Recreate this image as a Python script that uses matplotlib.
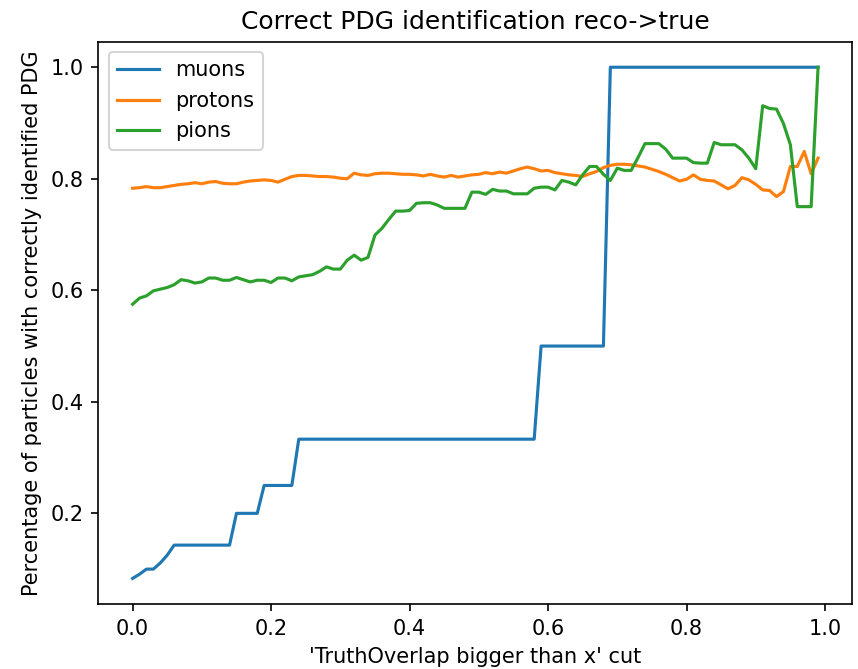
import numpy as np
import matplotlib
matplotlib.use("Agg")
import matplotlib.pyplot as plt

# cut values on TruthOverlap
cuts = np.round(np.arange(0, 1.0, 0.01), 2)

muons = [
    0.0833, 0.0909, 0.100, 0.100, 0.111, 0.125, 0.143, 0.143, 0.143, 0.143,
    0.143, 0.143, 0.143, 0.143, 0.143, 0.200, 0.200, 0.200, 0.200, 0.250,
    0.250, 0.250, 0.250, 0.250, 0.333, 0.333, 0.333, 0.333, 0.333, 0.333,
    0.333, 0.333, 0.333, 0.333, 0.333, 0.333, 0.333, 0.333, 0.333, 0.333,
    0.333, 0.333, 0.333, 0.333, 0.333, 0.333, 0.333, 0.333, 0.333, 0.333,
    0.333, 0.333, 0.333, 0.333, 0.333, 0.333, 0.333, 0.333, 0.333, 0.500,
    0.500, 0.500, 0.500, 0.500, 0.500, 0.500, 0.500, 0.500, 0.500, 1.000,
    1.000, 1.000, 1.000, 1.000, 1.000, 1.000, 1.000, 1.000, 1.000, 1.000,
    1.000, 1.000, 1.000, 1.000, 1.000, 1.000, 1.000, 1.000, 1.000, 1.000,
    1.000, 1.000, 1.000, 1.000, 1.000, 1.000, 1.000, 1.000, 1.000, 1.000,
]

protons = [
    0.783, 0.784, 0.786, 0.784, 0.784, 0.786, 0.788, 0.790, 0.791, 0.793,
    0.791, 0.794, 0.795, 0.792, 0.791, 0.791, 0.794, 0.796, 0.797, 0.798,
    0.797, 0.794, 0.799, 0.804, 0.806, 0.806, 0.805, 0.804, 0.804, 0.803,
    0.801, 0.800, 0.810, 0.807, 0.806, 0.809, 0.810, 0.810, 0.809, 0.808,
    0.808, 0.807, 0.805, 0.808, 0.805, 0.803, 0.806, 0.803, 0.805, 0.807,
    0.808, 0.811, 0.809, 0.812, 0.810, 0.814, 0.818, 0.821, 0.818, 0.814,
    0.815, 0.811, 0.809, 0.807, 0.806, 0.804, 0.809, 0.813, 0.820, 0.824,
    0.826, 0.826, 0.825, 0.823, 0.821, 0.817, 0.813, 0.808, 0.802, 0.796,
    0.799, 0.807, 0.799, 0.797, 0.796, 0.789, 0.782, 0.788, 0.802, 0.798,
    0.790, 0.780, 0.779, 0.768, 0.777, 0.822, 0.822, 0.849, 0.809, 0.837,
]

pions = [
    0.575, 0.586, 0.590, 0.599, 0.602, 0.605, 0.610, 0.619, 0.617, 0.613,
    0.615, 0.622, 0.622, 0.618, 0.618, 0.623, 0.619, 0.615, 0.618, 0.618,
    0.614, 0.622, 0.622, 0.617, 0.624, 0.626, 0.628, 0.634, 0.642, 0.638,
    0.638, 0.654, 0.663, 0.654, 0.659, 0.699, 0.711, 0.727, 0.742, 0.742,
    0.743, 0.756, 0.757, 0.757, 0.753, 0.747, 0.747, 0.747, 0.747, 0.776,
    0.776, 0.772, 0.781, 0.778, 0.778, 0.773, 0.773, 0.773, 0.783, 0.785,
    0.785, 0.780, 0.797, 0.794, 0.789, 0.807, 0.822, 0.822, 0.808, 0.797,
    0.819, 0.815, 0.815, 0.838, 0.863, 0.863, 0.863, 0.853, 0.837, 0.837,
    0.837, 0.829, 0.828, 0.828, 0.865, 0.861, 0.861, 0.861, 0.852, 0.837,
    0.818, 0.931, 0.926, 0.925, 0.899, 0.861, 0.750, 0.750, 0.750, 1.000,
]

fig = plt.figure(figsize=(5.72, 4.46), dpi=150)
ax = fig.add_axes([0.1146, 0.0972, 0.8788, 0.8405])

ax.plot(cuts, muons, label='muons')
ax.plot(cuts, protons, label='protons')
ax.plot(cuts, pions, label='pions')

ax.set_title('Correct PDG identification reco->true')
ax.set_xlabel("'TruthOverlap bigger than x' cut")
ax.set_ylabel('Percentage of particles with correctly identified PDG')
ax.legend(loc='upper left')

fig.savefig('out.png', dpi=150)
